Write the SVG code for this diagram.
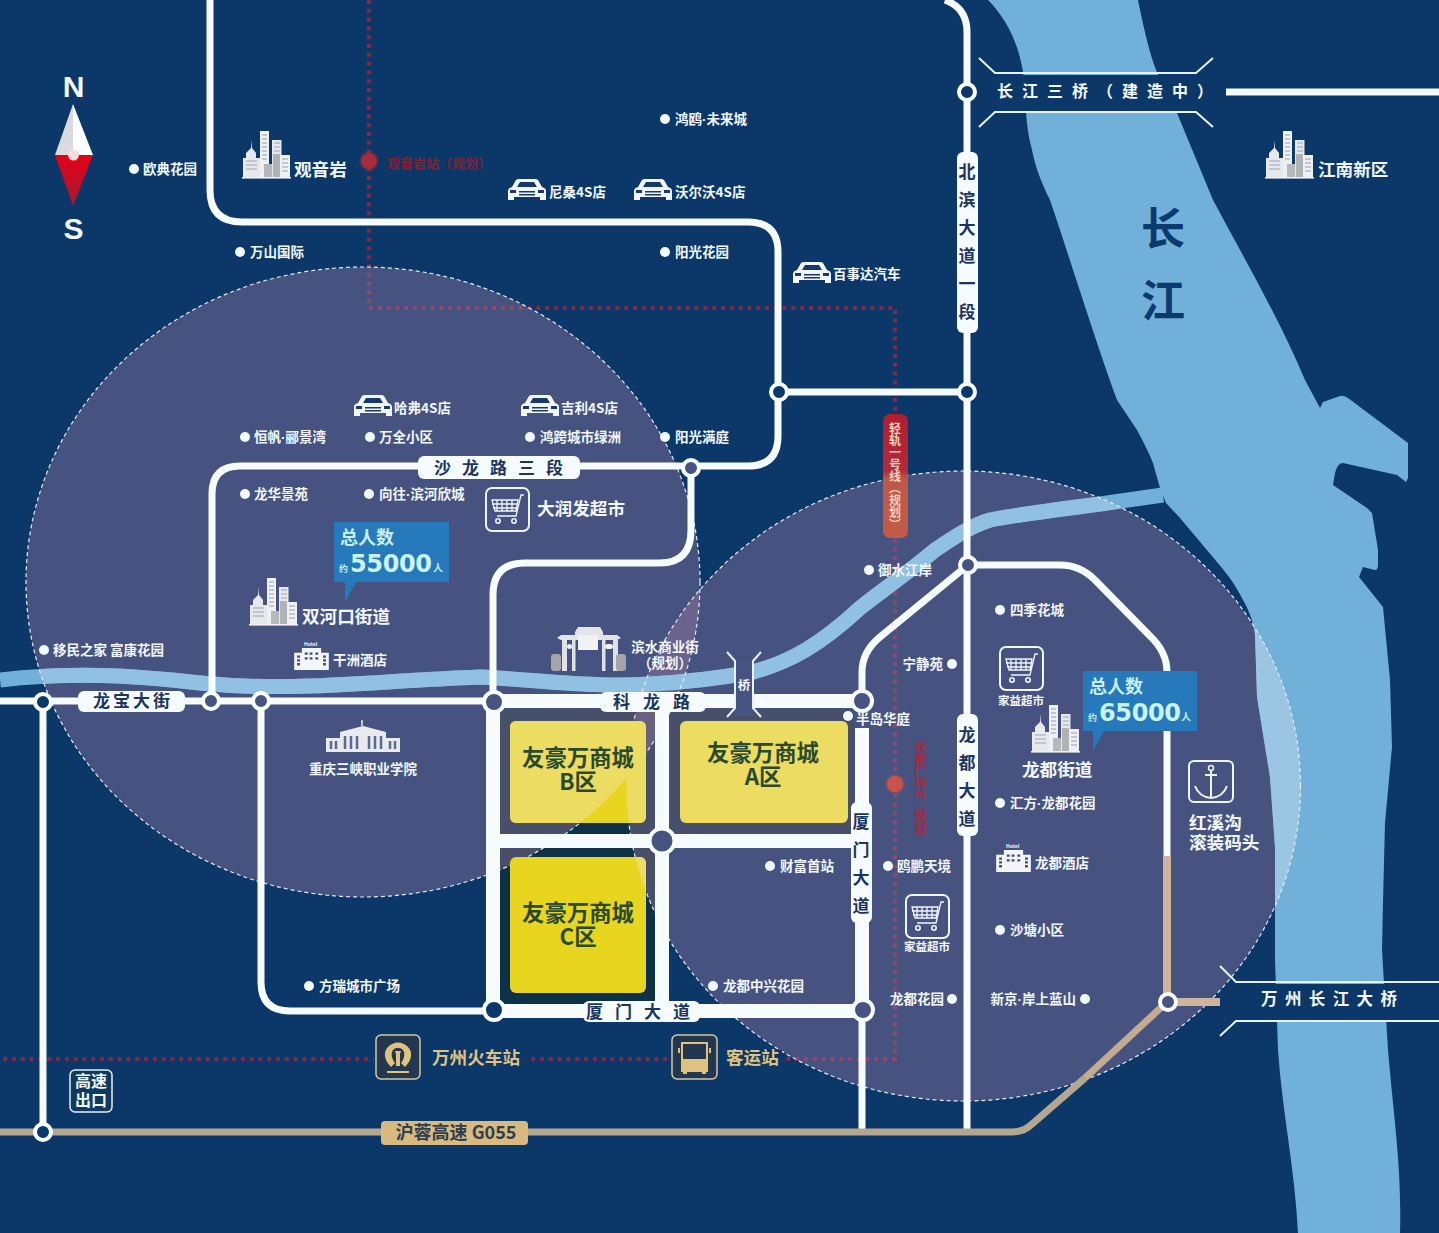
<svg xmlns="http://www.w3.org/2000/svg" width="1439" height="1233" viewBox="0 0 1439 1233">
<style>
text{font-family:"Noto Sans CJK SC","Liberation Sans",sans-serif;font-weight:700;fill:#f2f7fb}
.p{font-size:13.5px}.d{fill:#f2f9fc}
.m{font-size:17.6px}
.rd{font-size:17px;fill:#1c3560}
.v{writing-mode:vertical-rl;text-anchor:middle}
.rw{fill:none;stroke:#f6fcfd;stroke-linejoin:round}
.lb{fill:#f6fbfd}
.br{fill:none;stroke:#e6f3f8;stroke-width:2}
.j{stroke:#f8fdfe;stroke-width:4;fill:#475380}
.jo{fill:#0b3769}
.blk{font-size:22.4px;fill:#2a4a2f;text-anchor:middle}
.ic{fill:none;stroke:#f0f5f9;stroke-width:2}
.dot{font-family:"Liberation Sans",sans-serif}
.go{font-size:17.6px;fill:#e0c280}
.ll{font-size:18px;fill:#c8eef0}
.num{font-family:"DejaVu Sans",sans-serif;font-size:24px;fill:#c8f3f0}
.trib{fill:none;stroke-width:15}
</style>
<defs>
<clipPath id="c1"><ellipse cx="363" cy="582" rx="337" ry="315"/></clipPath>
<clipPath id="c2"><ellipse cx="963.500" cy="786" rx="337" ry="315"/></clipPath>
<clipPath id="cu"><ellipse cx="363" cy="582" rx="337" ry="315"/><ellipse cx="963.500" cy="786" rx="337" ry="315"/></clipPath>
<linearGradient id="pill" x1="0" y1="0" x2="0" y2="1"><stop offset="0" stop-color="#b01d30"/><stop offset=".46" stop-color="#b42a3a"/><stop offset=".52" stop-color="#be5846"/><stop offset="1" stop-color="#c05c48"/></linearGradient>
<linearGradient id="red" x1="0" y1="0" x2="0" y2="1"><stop offset="0" stop-color="#e40016"/><stop offset="1" stop-color="#a31c34"/></linearGradient>
<path id="riv" d="M988 0C1004 16 1018 40 1023 72C1026 100 1025 125 1032 150C1036 170 1043 186 1050 200C1072 265 1095 340 1117 400L1137 430C1145 445 1150 455 1153 463L1160 488L1166 503L1180 518L1222 568C1232 580 1238 590 1243 600C1250 612 1254 625 1255 635L1257 697L1270 777L1275 847L1275 960L1278 1050C1282 1110 1295 1170 1298 1233H1400C1402 1170 1394 1120 1388 1050L1382 950L1383 903L1385 823L1392 747L1390 680L1383 607L1359 577L1363 567L1375 570Q1378 570 1378 565L1378 550L1372 513L1367 508L1333 485L1335 473Q1338 462 1343 463L1397 475L1406 482L1408 478V443L1348 398Q1343 395 1340 396L1323 402L1320 408L1305 380C1280 320 1245 260 1213 200L1177 113L1157 72C1152 60 1146 40 1138 0Z"/>
<path id="tr" d="M0 680C70 672 130 675 200 683C290 692 360 682 480 677C540 680 600 688 650 684C690 682 720 678 753 672C790 662 820 645 860 608C880 592 905 575 935 550C950 540 970 526 990 520C1010 516 1030 513 1100 504L1163 495"/>
<symbol id="bld" viewBox="0 0 50 50" overflow="visible">
<rect x="0" y="46" width="49" height="1.6" fill="#f2f2f2"/>
<path d="M1 46V27H4V22L9 17L9.500 9L10 17L14 22V27H18V46Z" fill="#e6e8ec"/>
<rect x="18" y="0" width="9" height="46" fill="#eef0f3"/>
<rect x="30" y="9" width="9.500" height="37" fill="#e6e8ec"/>
<rect x="22" y="33" width="8" height="13" fill="#b5b7ba"/>
<rect x="31" y="23" width="7" height="23" fill="#b0b2b5"/>
<rect x="38" y="24" width="10" height="22" fill="#eef0f3"/>
<path d="M20 4h5M20 8h5M20 12h5M20 16h5M20 20h5M20 24h5M20 28h5M40 28h6M40 32h6M40 36h6M40 40h6M4 30h11M4 34h11M4 38h11M32 12h6M32 16h6M32 20h6" stroke="#b3bbc9" stroke-width="1.400"/>
</symbol>
<symbol id="car" viewBox="0 0 40 24" overflow="visible">
<path d="M1 22V13Q1 10 5 9L9 2Q10 1 12 1H28Q30 1 31 2L35 9Q39 10 39 13V22H33V19H7V22Z" fill="#f3f6f9"/>
<path d="M10 9L13 4H27L30 9Z" fill="#17396b"/>
<rect x="3" y="12" width="6" height="3" fill="#17396b"/><rect x="31" y="12" width="6" height="3" fill="#17396b"/>
<rect x="12" y="13" width="16" height="1.500" fill="#17396b"/><rect x="12" y="16" width="16" height="1.500" fill="#17396b"/>
</symbol>
<symbol id="cart" viewBox="0 0 45 45" overflow="visible">
<rect x="1" y="1" width="43" height="43" rx="6" fill="none" stroke="#f0f5f9" stroke-width="2"/>
<path d="M7 13H33L31 24H10ZM7 17H33M8 21H32M12 13V24M17 13V24M22 13V24M27 13V24M39 8H36L31 29H12" fill="none" stroke="#f0f5f9" stroke-width="1.300"/>
<circle cx="13" cy="34" r="2.200" fill="none" stroke="#f0f5f9" stroke-width="1.600"/><circle cx="29" cy="34" r="2.200" fill="none" stroke="#f0f5f9" stroke-width="1.600"/>
</symbol>
<symbol id="hot" viewBox="0 0 36 26" overflow="visible">
<path d="M0 8H8V3H28V8H36V26H0Z" fill="#f3f6f9"/>
<path d="M3 12h3M3 16h3M3 20h3M30 12h3M30 16h3M30 20h3M11 9h3M16 9h3M22 9h3M11 14h3M16 14h3M22 14h3" stroke="#3d4e7d" stroke-width="2.400"/>
</symbol>
</defs>

<g id="ground">
<rect width="1439" height="1233" fill="#0b3769"/>
<use href="#riv" fill="#71b0d9"/>
<use href="#tr" class="trib" stroke="#71b0d9"/>
<rect x="995" y="75" width="201" height="36" fill="#0b3769"/>
<rect x="1236" y="984" width="203" height="36" fill="#0b3769"/>
</g>

<g id="metro" fill="none" stroke="#7f2a48" stroke-width="4" stroke-dasharray="4 4.800">
<path d="M369 0V308H895V1059H0"/>
</g>
<g id="base-blocks" fill="#0d3146">
<rect x="500" y="709" width="155" height="295"/>
<rect x="669" y="709" width="185" height="126"/>
</g>
<g id="zones">
<ellipse cx="363" cy="582" rx="337" ry="315" fill="#a17da2" fill-opacity=".4"/>
<ellipse cx="963.500" cy="786" rx="337" ry="315" fill="#a17da2" fill-opacity=".4"/>
<use href="#riv" fill="#9bc6e3" clip-path="url(#c2)"/>
<use href="#tr" class="trib" stroke="#90c0e2" clip-path="url(#cu)"/>
<ellipse cx="363" cy="582" rx="337" ry="315" fill="none" stroke="#e6ecf3" stroke-width="1.200" stroke-dasharray="4 3"/>
<ellipse cx="963.500" cy="786" rx="337" ry="315" fill="none" stroke="#e6ecf3" stroke-width="1.200" stroke-dasharray="4 3"/>
</g>

<g id="yellow-blocks">
<rect x="510" y="721" width="136" height="102" rx="6" fill="#e8d520"/>
<rect x="510" y="721" width="136" height="102" rx="6" fill="#ecdc62" clip-path="url(#cu)"/>
<rect x="680" y="721" width="168" height="102" rx="6" fill="#ecdc62"/>
<rect x="510" y="857" width="136" height="136" rx="6" fill="#e8d520"/>
<rect x="510" y="857" width="136" height="136" rx="6" fill="#ecdc62" clip-path="url(#c2)"/>
</g>

<g id="connectors">
<path class="rw" stroke-width="7" d="M210 0V190Q210 222 242 222H748Q778 222 778 252V436Q778 466 748 466H240Q212 466 212 494V701"/>
<path class="rw" stroke-width="7" d="M691 468V530Q691 563 660 563H525Q493 563 493 595V702"/>
<path class="rw" stroke-width="7" d="M0 701H490"/>
<path class="rw" stroke-width="14" d="M488 701H862M493 702V1011M488 1011H862M662 702V1011M493 841H862M862 728V1011"/>
<path class="rw" stroke-width="7" d="M43 701V1132M261 701V982Q261 1011 290 1011H490"/>
<path class="rw" stroke-width="7" d="M862 1011V1130M862 700V672Q862 652 880 637L968 565H1060Q1080 565 1095 580L1150 636Q1167 652 1167 672V858"/>
<path class="rw" stroke-width="7" d="M945 0Q967 8 967 32V1130M778 392H967M1226 92H1439"/>
<path fill="none" stroke="#cfb39c" stroke-width="8" d="M1167 856V1002H1220"/>
<path fill="none" stroke="#c4ab90" stroke-width="7" d="M1167 1002L1085 1078"/>
<path fill="none" stroke="#b3a78f" stroke-width="7" d="M1085 1078L1032 1124Q1024 1132 1012 1132H0"/>
<rect x="735" y="660" width="18" height="56" fill="#475380"/>
<path class="br" stroke-width="1.500" d="M727 652L735 661V708L727 717M761 652L753 661V708L761 717"/>
<path class="br" d="M979 58L995 73H1196L1213 58M979 127L995 112H1196L1213 127M1220 966L1236 982H1439M1220 1036L1236 1021H1439"/>
<g id="junctions">
<circle class="j jo" cx="967" cy="92" r="8"/><circle class="j jo" cx="779" cy="392" r="8"/><circle class="j jo" cx="967" cy="392" r="8"/>
<circle class="j" cx="691" cy="468" r="8"/><circle class="j" cx="968" cy="565" r="8"/><circle class="j" cx="862" cy="701" r="10"/>
<circle class="j" cx="494" cy="702" r="10"/><circle class="j jo" cx="43" cy="702" r="8"/><circle class="j" cx="211" cy="701" r="8"/><circle class="j" cx="261" cy="701" r="8"/>
<circle class="j jo" cx="494" cy="1010" r="10"/><circle class="j" cx="863" cy="1010" r="10"/><circle class="j" cx="662" cy="841" r="12.500"/><circle class="j" cx="1168" cy="1002" r="8"/><circle class="j jo" cx="43" cy="1132" r="8"/>
</g>
<g id="road-labels">
<rect class="lb" x="418" y="456" width="162" height="23" rx="6"/><text class="rd" x="504" y="474" text-anchor="middle" letter-spacing="11">沙龙路三段</text>
<rect class="lb" x="600" y="692" width="106" height="20" rx="6"/><text class="rd" x="658" y="708" text-anchor="middle" letter-spacing="13">科龙路</text>
<rect class="lb" x="78" y="691" width="107" height="21" rx="6"/><text class="rd" x="133" y="707" text-anchor="middle" letter-spacing="3">龙宝大街</text>
<rect class="lb" x="583" y="1001" width="117" height="21" rx="6"/><text class="rd" x="644" y="1018" text-anchor="middle" letter-spacing="12">厦门大道</text>
<rect class="lb" x="957" y="152" width="21" height="181" rx="6"/><text class="rd v" x="967" y="247" letter-spacing="11">北滨大道一段</text>
<rect class="lb" x="957" y="714" width="21" height="122" rx="6"/><text class="rd v" x="967" y="782" letter-spacing="11">龙都大道</text>
<rect class="lb" x="851" y="802" width="21" height="121" rx="6"/><text class="rd v" x="861" y="869" letter-spacing="11">厦门大道</text>
<rect x="381" y="1121" width="147" height="24" rx="4" fill="#d8b97f"/><text x="456" y="1139" text-anchor="middle" style="font-size:18px;fill:#2e3f4f">沪蓉高速 G055</text>
<text x="744" y="690" text-anchor="middle" style="font-size:12.500px">桥</text>
<text x="997" y="97" letter-spacing="9" style="font-size:16px">长江三桥（建造中）</text>
<text x="1261" y="1005" letter-spacing="7.400" style="font-size:16.500px">万州长江大桥</text>
</g>
</g>

<g id="compass">
<text x="73.500" y="97" text-anchor="middle" style="font-family:'Liberation Sans',sans-serif;font-size:30px">N</text>
<text x="73.500" y="239" text-anchor="middle" style="font-family:'Liberation Sans',sans-serif;font-size:30px">S</text>
<path d="M73 104L55 155H73Z" fill="#d9d9e0"/><path d="M73 104L93 155H73Z" fill="#fff"/>
<path d="M55 155H93L73 206Z" fill="url(#red)"/>
<circle cx="73.500" cy="155" r="5.500" fill="#f7dcdc"/>
</g>

<g id="river-label">
<text x="1163" y="245" text-anchor="middle" style="font-size:44px;fill:#0d3a6e">长</text>
<text x="1163" y="317" text-anchor="middle" style="font-size:44px;fill:#0d3a6e">江</text>
</g>

<g id="metro-labels">
<circle cx="369" cy="161" r="10" fill="#a82b3e" fill-opacity=".3"/><circle cx="369" cy="161" r="8" fill="#a82b3e"/>
<text x="387" y="168" style="font-size:13px;fill:#7e2438">观音岩站（规划）</text>
<rect x="883" y="414" width="25" height="124" rx="7" fill="url(#pill)"/>
<text class="v" x="895" y="476" style="font-size:12px;fill:#f2cfc0">轻轨一号线（规划）</text>
<circle cx="895" cy="784" r="10" fill="#c9524a" fill-opacity=".3"/><circle cx="895" cy="784" r="8" fill="#c9524a"/>
<text class="v" x="920" y="793" style="font-size:11.500px;fill:#a8283c">龙都广场站（规划）</text>
</g>

<g id="places">
<g id="p1"><circle class="d" cx="134" cy="169" r="5"/><text x="143" y="174" class="p">欧典花园</text></g>
<g id="p2"><circle class="d" cx="240" cy="252" r="5"/><text x="250" y="257" class="p">万山国际</text></g>
<g id="p3"><circle class="d" cx="665" cy="119" r="5"/><text x="675" y="124" class="p">鸿鸥<tspan class="dot">·</tspan>未来城</text></g>
<g id="p4"><circle class="d" cx="665" cy="252" r="5"/><text x="675" y="257" class="p">阳光花园</text></g>
<g id="p5"><circle class="d" cx="245" cy="437" r="5"/><text x="254" y="442" class="p">恒帆<tspan class="dot">·</tspan>郦景湾</text></g>
<g id="p6"><circle class="d" cx="370" cy="437" r="5"/><text x="379" y="442" class="p">万全小区</text></g>
<g id="p7"><circle class="d" cx="530" cy="437" r="5"/><text x="540" y="442" class="p">鸿跨城市绿洲</text></g>
<g id="p8"><circle class="d" cx="665" cy="437" r="5"/><text x="675" y="442" class="p">阳光满庭</text></g>
<g id="p9"><circle class="d" cx="245" cy="494" r="5"/><text x="254" y="499" class="p">龙华景苑</text></g>
<g id="p10"><circle class="d" cx="369" cy="494" r="5"/><text x="379" y="499" class="p">向往<tspan class="dot">·</tspan>滨河欣城</text></g>
<g id="p11"><circle class="d" cx="869" cy="570" r="5"/><text x="878" y="575" class="p">御水江岸</text></g>
<g id="p12"><circle class="d" cx="44" cy="650" r="5"/><text x="53" y="655" class="p">移民之家 富康花园</text></g>
<g id="p13"><circle class="d" cx="952" cy="664" r="5"/><text x="943" y="669" text-anchor="end" class="p">宁静苑</text></g>
<g id="p14"><circle class="d" cx="848" cy="716" r="5"/><text x="856" y="724" class="p">半岛华庭</text></g>
<g id="p15"><circle class="d" cx="1000" cy="610" r="5"/><text x="1010" y="615" class="p">四季花城</text></g>
<g id="p16"><circle class="d" cx="1000" cy="803" r="5"/><text x="1010" y="808" class="p">汇方<tspan class="dot">·</tspan>龙都花园</text></g>
<g id="p17"><circle class="d" cx="770" cy="866" r="5"/><text x="780" y="871" class="p">财富首站</text></g>
<g id="p18"><circle class="d" cx="888" cy="866" r="5"/><text x="897" y="871" class="p">鸥鹏天境</text></g>
<g id="p19"><circle class="d" cx="1000" cy="930" r="5"/><text x="1010" y="935" class="p">沙塘小区</text></g>
<g id="p20"><circle class="d" cx="713" cy="986" r="5"/><text x="723" y="991" class="p">龙都中兴花园</text></g>
<g id="p21"><circle class="d" cx="309" cy="986" r="5"/><text x="319" y="991" class="p">方瑞城市广场</text></g>
<g id="p22"><circle class="d" cx="952" cy="999" r="5"/><text x="944" y="1004" text-anchor="end" class="p">龙都花园</text></g>
<g id="p23"><circle class="d" cx="1085" cy="999" r="5"/><text x="1076" y="1004" text-anchor="end" class="p">新京<tspan class="dot">·</tspan>岸上蓝山</text></g>
</g>

<g id="cars">
<g id="c-a"><use href="#car" x="507" y="178" width="40" height="24"/><text x="549" y="197" class="p">尼桑4S店</text></g>
<g id="c-b"><use href="#car" x="633" y="178" width="40" height="24"/><text x="675" y="197" class="p">沃尔沃4S店</text></g>
<g id="c-c"><use href="#car" x="792" y="261" width="40" height="24"/><text x="833" y="279" class="p">百事达汽车</text></g>
<g id="c-d"><use href="#car" x="353" y="394" width="40" height="24"/><text x="394" y="413" class="p">哈弗4S店</text></g>
<g id="c-e"><use href="#car" x="520" y="394" width="40" height="24"/><text x="561" y="413" class="p">吉利4S店</text></g>
</g>

<g id="districts">
<g id="d1"><use href="#bld" x="242" y="131" width="50" height="50"/><text x="294" y="176" class="m">观音岩</text></g>
<g id="d2"><use href="#bld" x="1265" y="131" width="50" height="50"/><text x="1318" y="176" class="m">江南新区</text></g>
<g id="d3"><use href="#bld" x="249" y="578" width="50" height="50"/><text x="302" y="623" class="m">双河口街道</text></g>
<g id="d4"><use href="#bld" x="1031" y="705" width="50" height="50"/><text x="1022" y="776" class="m">龙都街道</text></g>
</g>

<g id="shops">
<g id="s1"><use href="#cart" x="485" y="487" width="45" height="45"/><text x="537" y="515" class="m">大润发超市</text></g>
<g id="s2"><use href="#cart" x="999" y="646" width="45" height="45"/><text x="1021" y="705" text-anchor="middle" style="font-size:11.500px">家益超市</text></g>
<g id="s3"><use href="#cart" x="905" y="894" width="45" height="45"/><text x="927" y="951" text-anchor="middle" style="font-size:11.500px">家益超市</text></g>
<g id="h1"><use href="#hot" x="294" y="645" width="35" height="25"/><text x="333" y="665" class="p">干洲酒店</text></g>
<g id="h2"><use href="#hot" x="996" y="847" width="35" height="25"/><text x="1035" y="868" class="p">龙都酒店</text></g>
<text x="304" y="646" style="font-size:5px">Hotel</text><text x="1006" y="848" style="font-size:5px">Hotel</text>
</g>

<g id="school">
<path d="M326 752V738H340V732L363 726L386 732V738H400V752Z" fill="#e8eaee"/>
<path d="M362 726V720" stroke="#e8eaee" stroke-width="1.500"/>
<path d="M331 741V749M336 741V749M345 736V749M351 736V749M357 736V749M369 736V749M375 736V749M381 736V749M390 741V749M395 741V749" stroke="#5a6a92" stroke-width="2.500"/>
<text x="363" y="774" text-anchor="middle" style="font-size:13.500px">重庆三峡职业学院</text>
</g>

<g id="gate">
<path d="M557 638L561 635H575V632L578 627H600L603 632V635H617L621 638L617 640H561Z" fill="#e2e4e8"/>
<rect x="562" y="640" width="5" height="31" fill="#dfe1e6"/><rect x="572" y="640" width="3.500" height="31" fill="#dfe1e6"/>
<rect x="602" y="640" width="3.500" height="31" fill="#dfe1e6"/><rect x="613" y="640" width="5" height="31" fill="#dfe1e6"/>
<rect x="578" y="635" width="20" height="15" fill="#f1f2f4"/>
<rect x="567" y="644" width="5" height="5" rx="2.500" fill="#f1f2f4"/><rect x="605" y="644" width="8" height="5" rx="2.500" fill="#f1f2f4"/>
<rect x="551" y="654" width="10" height="17" rx="3" fill="#a3a5ab"/><rect x="616" y="654" width="10" height="17" rx="3" fill="#a3a5ab"/>
<text x="665" y="652" text-anchor="middle" class="p">滨水商业街</text>
<text x="665" y="668" text-anchor="middle" class="p">（规划）</text>
</g>

<g id="dock">
<rect x="1189" y="761" width="44" height="41" rx="5" class="ic"/>
<path d="M1211 771V797M1205 775H1217M1195 786Q1199 797 1211 798Q1223 797 1227 786" class="ic"/>
<circle cx="1211" cy="768" r="2.500" class="ic" style="stroke-width:1.500"/>
<text x="1189" y="829" class="m">红溪沟</text>
<text x="1189" y="849" class="m">滚装码头</text>
</g>

<g id="callouts">
<g id="k1"><path d="M334 522H449V582H356L345 602V582H334Z" fill="#2679ba"/>
<text x="340" y="544" class="ll">总人数</text>
<text x="339" y="572" style="font-size:9px;fill:#c8eef0">约</text>
<text x="350" y="572" class="num" textLength="82">55000</text>
<text x="433" y="572" style="font-size:10px;fill:#c8eef0">人</text></g>
<g id="k2"><path d="M1083 671H1197V731H1104L1093 751V731H1083Z" fill="#2679ba"/>
<text x="1089" y="693" class="ll">总人数</text>
<text x="1088" y="721" style="font-size:9px;fill:#c8eef0">约</text>
<text x="1099" y="721" class="num" textLength="82">65000</text>
<text x="1181" y="721" style="font-size:10px;fill:#c8eef0">人</text></g>
</g>

<g id="blocks-text">
<text class="blk" x="578" y="766">友豪万商城</text><text class="blk" x="578" y="790">B区</text>
<text class="blk" x="763" y="761">友豪万商城</text><text class="blk" x="763" y="785">A区</text>
<text class="blk" x="578" y="921">友豪万商城</text><text class="blk" x="578" y="945">C区</text>
</g>

<g id="transit">
<rect x="374" y="1050" width="152" height="18" fill="#0b3769"/>
<rect x="668" y="1050" width="114" height="18" fill="#0b3769"/>
<g id="t1"><rect x="376" y="1035" width="44" height="44" rx="5" fill="#23374f" stroke="#d8c8a0" stroke-width="1.500"/>
<path d="M391 1067C384 1060 383 1052 388 1047C394 1041 402 1041 408 1047C413 1052 412 1060 405 1067L401 1063C405 1058 405 1053 403 1050C400 1047 396 1047 393 1050C391 1053 391 1058 395 1063Z" fill="#e0c280"/>
<path d="M395 1051h6l-1 3v12h-4v-12z" fill="#e0c280"/><path d="M387 1072h22" stroke="#e0c280" stroke-width="2"/>
<text x="432" y="1064" class="go">万州火车站</text></g>
<g id="t2"><rect x="672" y="1035" width="45" height="44" rx="5" fill="#23374f" stroke="#d8c8a0" stroke-width="1.500"/>
<path d="M682 1043H707V1071H682Z" fill="none" stroke="#e0c280" stroke-width="2"/><rect x="681" y="1059" width="27" height="12" fill="#e0c280"/><path d="M679 1048v5M710 1048v5" stroke="#e0c280" stroke-width="2"/><rect x="683" y="1071" width="4" height="3" fill="#e0c280"/><rect x="702" y="1071" width="4" height="3" fill="#e0c280"/>
<text x="726" y="1064" class="go">客运站</text></g>
<g id="t3"><rect x="70" y="1070" width="42" height="42" rx="5" fill="#0f3a5d" stroke="#e8eef3" stroke-width="1.500"/>
<text x="91" y="1087" text-anchor="middle" style="font-size:16px">高速</text><text x="91" y="1106" text-anchor="middle" style="font-size:16px">出口</text></g>
</g>
</svg>
